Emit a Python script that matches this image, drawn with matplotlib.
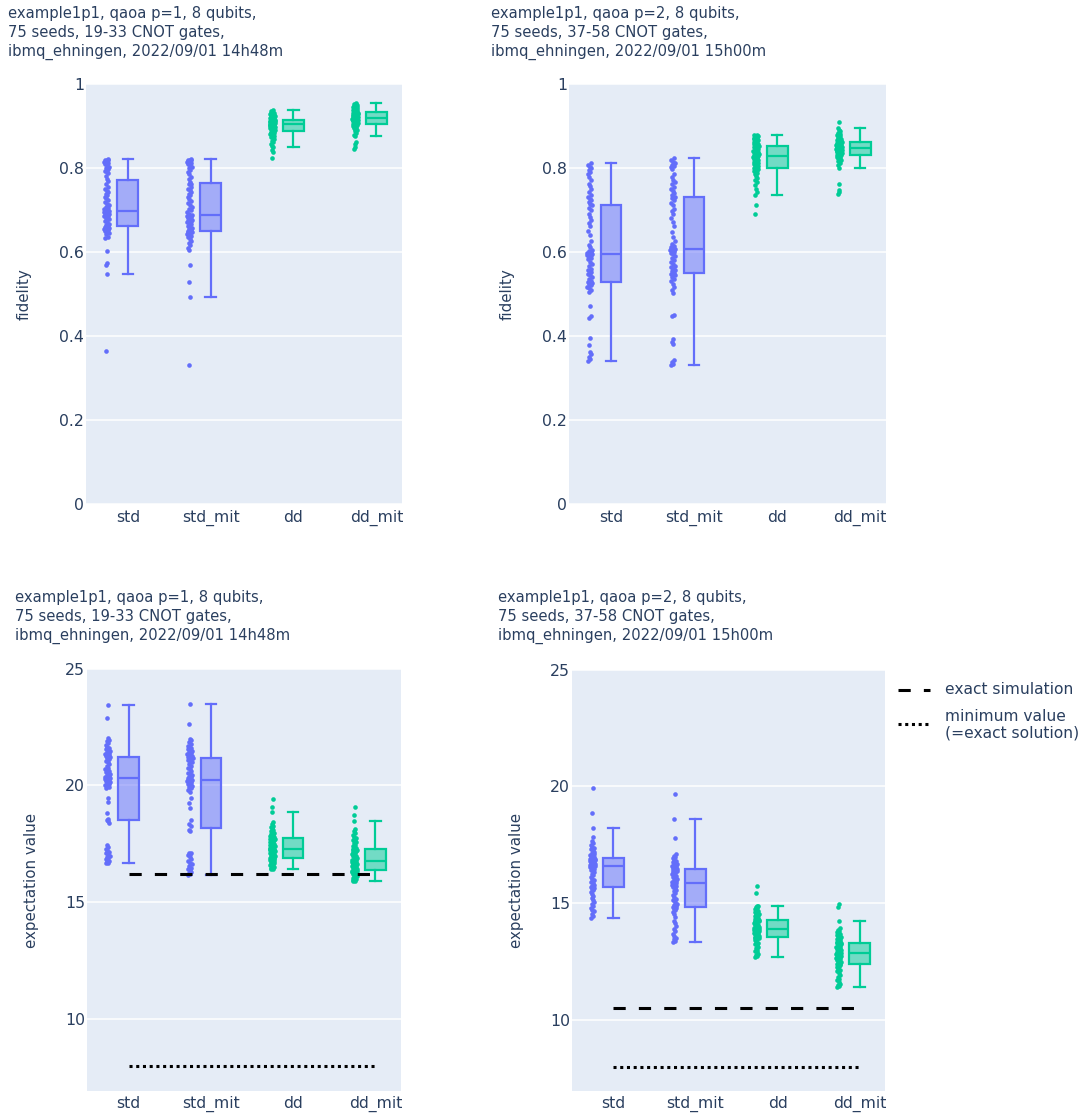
import numpy as np
import matplotlib.pyplot as plt
from matplotlib.colors import to_rgba
from matplotlib.lines import Line2D

plt.rcParams['font.family'] = ['DejaVu Sans']

categories = ['std', 'std_mit', 'dd', 'dd_mit']
colors = ['#636EFA', '#636EFA', '#00CC96', '#00CC96']

# fidelity, qaoa p=1
fid_p1_std = [0.365, 0.546, 0.568, 0.572, 0.601, 0.632, 0.636, 0.641, 0.645, 0.648, 0.650, 0.651, 0.653, 0.654, 0.655,
              0.656, 0.657, 0.658, 0.659, 0.661, 0.663, 0.666, 0.670, 0.674, 0.678, 0.681, 0.684, 0.686, 0.688, 0.689,
              0.690, 0.691, 0.692, 0.693, 0.694, 0.695, 0.696, 0.697, 0.699, 0.701, 0.704, 0.707, 0.710, 0.714, 0.718,
              0.722, 0.727, 0.731, 0.735, 0.738, 0.741, 0.744, 0.748, 0.755, 0.762, 0.768, 0.772, 0.779, 0.786, 0.790,
              0.793, 0.796, 0.799, 0.802, 0.806, 0.809, 0.811, 0.813, 0.814, 0.815, 0.816, 0.817, 0.818, 0.819, 0.820]
fid_p1_std_mit = [0.331, 0.493, 0.528, 0.568, 0.603, 0.608, 0.615, 0.620, 0.626, 0.630, 0.634, 0.637, 0.640, 0.642, 0.644,
                  0.646, 0.647, 0.648, 0.649, 0.651, 0.653, 0.656, 0.659, 0.662, 0.665, 0.668, 0.670, 0.672, 0.674, 0.676,
                  0.678, 0.680, 0.682, 0.683, 0.684, 0.685, 0.686, 0.687, 0.690, 0.694, 0.698, 0.702, 0.706, 0.710, 0.715,
                  0.720, 0.725, 0.730, 0.734, 0.738, 0.742, 0.746, 0.750, 0.755, 0.760, 0.762, 0.766, 0.772, 0.778, 0.784,
                  0.790, 0.795, 0.799, 0.802, 0.805, 0.808, 0.810, 0.812, 0.814, 0.815, 0.816, 0.817, 0.818, 0.819, 0.821]
fid_p1_dd = [0.823, 0.838, 0.842, 0.848, 0.852, 0.856, 0.860, 0.864, 0.867, 0.870, 0.873, 0.875, 0.877, 0.879, 0.881,
             0.882, 0.883, 0.884, 0.885, 0.887, 0.888, 0.889, 0.890, 0.891, 0.892, 0.893, 0.894, 0.895, 0.896, 0.897,
             0.898, 0.899, 0.899, 0.900, 0.901, 0.901, 0.902, 0.903, 0.904, 0.904, 0.905, 0.905, 0.906, 0.906, 0.907,
             0.907, 0.908, 0.909, 0.909, 0.910, 0.910, 0.911, 0.912, 0.912, 0.913, 0.913, 0.915, 0.916, 0.917, 0.918,
             0.919, 0.920, 0.921, 0.922, 0.923, 0.924, 0.925, 0.926, 0.927, 0.928, 0.929, 0.930, 0.932, 0.934, 0.936]
fid_p1_dd_mit = [0.845, 0.850, 0.856, 0.860, 0.874, 0.878, 0.882, 0.886, 0.889, 0.891, 0.893, 0.895, 0.897, 0.898, 0.899,
                 0.900, 0.901, 0.902, 0.903, 0.905, 0.906, 0.907, 0.908, 0.909, 0.910, 0.910, 0.911, 0.912, 0.912, 0.913,
                 0.914, 0.914, 0.915, 0.916, 0.916, 0.917, 0.917, 0.918, 0.919, 0.919, 0.920, 0.921, 0.921, 0.922, 0.923,
                 0.923, 0.924, 0.925, 0.925, 0.926, 0.927, 0.928, 0.929, 0.930, 0.931, 0.931, 0.933, 0.934, 0.935, 0.936,
                 0.937, 0.938, 0.939, 0.940, 0.941, 0.942, 0.943, 0.944, 0.945, 0.946, 0.947, 0.948, 0.950, 0.952, 0.954]

# fidelity, qaoa p=2
fid_p2_std = [0.341, 0.345, 0.350, 0.356, 0.362, 0.377, 0.395, 0.443, 0.447, 0.472, 0.505, 0.510, 0.513, 0.516, 0.520,
              0.523, 0.525, 0.527, 0.528, 0.530, 0.535, 0.540, 0.544, 0.548, 0.551, 0.554, 0.557, 0.560, 0.565, 0.570,
              0.576, 0.582, 0.586, 0.589, 0.591, 0.592, 0.593, 0.594, 0.596, 0.598, 0.600, 0.602, 0.605, 0.610, 0.617,
              0.625, 0.640, 0.650, 0.660, 0.668, 0.675, 0.682, 0.690, 0.698, 0.705, 0.710, 0.714, 0.718, 0.722, 0.726,
              0.730, 0.735, 0.742, 0.750, 0.756, 0.762, 0.770, 0.778, 0.784, 0.790, 0.795, 0.798, 0.801, 0.805, 0.810]
fid_p2_std_mit = [0.330, 0.334, 0.338, 0.342, 0.380, 0.386, 0.392, 0.446, 0.450, 0.502, 0.508, 0.515, 0.522, 0.530, 0.535,
                  0.540, 0.544, 0.547, 0.548, 0.550, 0.553, 0.556, 0.560, 0.563, 0.566, 0.570, 0.575, 0.580, 0.585, 0.590,
                  0.594, 0.597, 0.600, 0.602, 0.604, 0.605, 0.606, 0.607, 0.609, 0.611, 0.614, 0.618, 0.626, 0.635, 0.648,
                  0.660, 0.670, 0.680, 0.690, 0.696, 0.702, 0.710, 0.716, 0.722, 0.727, 0.729, 0.731, 0.735, 0.740, 0.745,
                  0.750, 0.755, 0.760, 0.765, 0.771, 0.778, 0.785, 0.797, 0.801, 0.804, 0.807, 0.810, 0.813, 0.818, 0.823]
fid_p2_dd = [0.689, 0.710, 0.736, 0.742, 0.750, 0.758, 0.765, 0.771, 0.776, 0.780, 0.784, 0.787, 0.790, 0.792, 0.794,
             0.796, 0.797, 0.798, 0.798, 0.800, 0.802, 0.804, 0.806, 0.808, 0.810, 0.812, 0.814, 0.815, 0.817, 0.818,
             0.820, 0.821, 0.823, 0.824, 0.825, 0.826, 0.827, 0.828, 0.829, 0.830, 0.831, 0.832, 0.833, 0.835, 0.836,
             0.837, 0.839, 0.840, 0.842, 0.843, 0.845, 0.846, 0.848, 0.849, 0.850, 0.851, 0.853, 0.855, 0.857, 0.859,
             0.861, 0.863, 0.864, 0.866, 0.867, 0.868, 0.869, 0.870, 0.871, 0.872, 0.873, 0.874, 0.875, 0.877, 0.878]
fid_p2_dd_mit = [0.738, 0.742, 0.746, 0.762, 0.800, 0.806, 0.811, 0.815, 0.818, 0.820, 0.822, 0.824, 0.825, 0.826, 0.827,
                 0.828, 0.829, 0.830, 0.830, 0.832, 0.833, 0.834, 0.835, 0.836, 0.837, 0.838, 0.839, 0.840, 0.840, 0.841,
                 0.842, 0.842, 0.843, 0.844, 0.844, 0.845, 0.845, 0.846, 0.847, 0.848, 0.848, 0.849, 0.850, 0.851, 0.851,
                 0.852, 0.853, 0.854, 0.855, 0.856, 0.856, 0.857, 0.858, 0.859, 0.860, 0.860, 0.862, 0.863, 0.864, 0.865,
                 0.866, 0.867, 0.868, 0.869, 0.870, 0.872, 0.874, 0.876, 0.878, 0.880, 0.883, 0.886, 0.890, 0.895, 0.908]

# expectation value, qaoa p=1
exp_p1_std = [16.67, 16.70, 16.73, 16.77, 16.80, 16.84, 16.88, 16.93, 16.98, 17.04, 17.10, 17.16, 17.22, 17.30, 17.38,
              17.44, 18.40, 18.48, 18.52, 18.56, 18.80, 19.30, 19.44, 19.87, 19.93, 19.98, 20.02, 20.06, 20.10, 20.13,
              20.16, 20.19, 20.22, 20.24, 20.26, 20.28, 20.30, 20.31, 20.33, 20.36, 20.40, 20.44, 20.48, 20.52, 20.56,
              20.60, 20.65, 20.70, 20.76, 20.82, 20.90, 20.98, 21.05, 21.12, 21.18, 21.20, 21.22, 21.25, 21.28, 21.31,
              21.34, 21.38, 21.42, 21.46, 21.50, 21.55, 21.60, 21.65, 21.72, 21.80, 21.88, 21.94, 22.01, 22.90, 23.46]
exp_p1_std_mit = [16.16, 16.20, 16.25, 16.30, 16.36, 16.42, 16.48, 16.55, 16.62, 16.70, 16.78, 16.86, 16.94, 17.01, 17.06,
                  17.10, 17.12, 18.05, 18.11, 18.25, 18.37, 18.51, 19.04, 19.23, 19.48, 19.73, 19.80, 19.87, 19.93, 19.98,
                  20.03, 20.07, 20.11, 20.15, 20.18, 20.20, 20.22, 20.23, 20.26, 20.30, 20.34, 20.38, 20.43, 20.48, 20.53,
                  20.60, 20.68, 20.76, 20.84, 20.92, 20.98, 21.04, 21.09, 21.13, 21.15, 21.16, 21.18, 21.22, 21.26, 21.30,
                  21.34, 21.38, 21.42, 21.46, 21.50, 21.55, 21.60, 21.65, 21.70, 21.78, 21.87, 21.95, 22.00, 22.61, 23.49]
exp_p1_dd = [16.41, 16.44, 16.48, 16.52, 16.56, 16.60, 16.64, 16.67, 16.70, 16.73, 16.76, 16.78, 16.80, 16.82, 16.84,
             16.86, 16.87, 16.88, 16.89, 16.91, 16.93, 16.96, 16.99, 17.02, 17.05, 17.08, 17.11, 17.14, 17.16, 17.18,
             17.20, 17.22, 17.24, 17.26, 17.27, 17.28, 17.29, 17.30, 17.32, 17.34, 17.36, 17.38, 17.41, 17.44, 17.47,
             17.50, 17.53, 17.56, 17.59, 17.62, 17.65, 17.67, 17.69, 17.71, 17.72, 17.72, 17.74, 17.76, 17.79, 17.82,
             17.85, 17.88, 17.92, 17.96, 18.00, 18.05, 18.10, 18.16, 18.22, 18.28, 18.34, 18.42, 18.87, 19.06, 19.40]
exp_p1_dd_mit = [15.91, 15.93, 15.95, 15.98, 16.01, 16.04, 16.07, 16.10, 16.13, 16.16, 16.19, 16.22, 16.25, 16.28, 16.30,
                 16.32, 16.33, 16.34, 16.35, 16.37, 16.39, 16.42, 16.45, 16.48, 16.51, 16.54, 16.57, 16.60, 16.62, 16.64,
                 16.66, 16.68, 16.70, 16.72, 16.73, 16.74, 16.75, 16.76, 16.78, 16.81, 16.84, 16.87, 16.90, 16.93, 16.96,
                 17.00, 17.04, 17.08, 17.12, 17.15, 17.18, 17.20, 17.22, 17.24, 17.25, 17.25, 17.27, 17.30, 17.34, 17.38,
                 17.42, 17.47, 17.52, 17.57, 17.62, 17.68, 17.74, 17.80, 17.88, 17.96, 18.05, 18.15, 18.48, 18.73, 19.07]

# expectation value, qaoa p=2
exp_p2_std = [14.37, 14.45, 14.55, 14.65, 14.72, 14.80, 14.88, 14.95, 15.05, 15.15, 15.22, 15.30, 15.40, 15.48, 15.55,
              15.60, 15.64, 15.67, 15.69, 15.71, 15.75, 15.80, 15.86, 15.92, 15.98, 16.05, 16.12, 16.19, 16.26, 16.32,
              16.38, 16.43, 16.47, 16.51, 16.54, 16.56, 16.58, 16.59, 16.61, 16.63, 16.65, 16.67, 16.69, 16.71, 16.73,
              16.75, 16.77, 16.79, 16.81, 16.83, 16.85, 16.87, 16.88, 16.90, 16.91, 16.91, 16.93, 16.95, 16.98, 17.01,
              17.05, 17.09, 17.13, 17.18, 17.24, 17.30, 17.36, 17.42, 17.50, 17.58, 17.66, 17.82, 18.20, 18.84, 19.94]
exp_p2_std_mit = [13.33, 13.38, 13.45, 13.52, 13.60, 13.70, 13.80, 13.92, 14.02, 14.14, 14.25, 14.40, 14.52, 14.62, 14.70,
                  14.76, 14.80, 14.83, 14.85, 14.87, 14.92, 14.98, 15.05, 15.12, 15.20, 15.28, 15.36, 15.44, 15.52, 15.58,
                  15.64, 15.69, 15.73, 15.77, 15.80, 15.82, 15.84, 15.85, 15.88, 15.92, 15.96, 16.00, 16.04, 16.08, 16.12,
                  16.16, 16.20, 16.24, 16.28, 16.32, 16.36, 16.40, 16.43, 16.45, 16.46, 16.46, 16.48, 16.51, 16.54, 16.57,
                  16.60, 16.63, 16.66, 16.70, 16.74, 16.78, 16.82, 16.87, 16.93, 17.00, 17.04, 17.09, 17.78, 18.60, 19.66]
exp_p2_dd = [12.72, 12.76, 12.80, 12.85, 12.90, 12.96, 13.02, 13.08, 13.14, 13.20, 13.26, 13.32, 13.37, 13.42, 13.46,
             13.50, 13.52, 13.53, 13.54, 13.56, 13.58, 13.61, 13.64, 13.67, 13.70, 13.72, 13.74, 13.76, 13.78, 13.80,
             13.82, 13.84, 13.85, 13.86, 13.87, 13.88, 13.89, 13.90, 13.92, 13.94, 13.96, 13.98, 14.00, 14.03, 14.06,
             14.09, 14.12, 14.15, 14.18, 14.20, 14.22, 14.24, 14.26, 14.27, 14.28, 14.28, 14.30, 14.33, 14.36, 14.40,
             14.44, 14.48, 14.52, 14.56, 14.60, 14.64, 14.68, 14.72, 14.76, 14.80, 14.84, 14.87, 14.90, 15.45, 15.74]
exp_p2_dd_mit = [11.41, 11.45, 11.50, 11.56, 11.62, 11.70, 11.78, 11.86, 11.94, 12.02, 12.10, 12.16, 12.22, 12.27, 12.31,
                 12.34, 12.36, 12.38, 12.39, 12.41, 12.44, 12.48, 12.52, 12.56, 12.60, 12.64, 12.67, 12.70, 12.72, 12.74,
                 12.76, 12.78, 12.80, 12.82, 12.83, 12.84, 12.85, 12.86, 12.88, 12.91, 12.94, 12.97, 13.00, 13.03, 13.06,
                 13.09, 13.12, 13.15, 13.18, 13.21, 13.24, 13.27, 13.29, 13.30, 13.31, 13.31, 13.33, 13.36, 13.39, 13.42,
                 13.45, 13.48, 13.52, 13.56, 13.60, 13.64, 13.68, 13.72, 13.76, 13.80, 13.86, 13.95, 14.23, 14.86, 14.97]

exact_sim_p1 = 16.19
exact_sim_p2 = 10.53
min_value = 8.0

title_p1 = 'example1p1, qaoa p=1, 8 qubits,\n75 seeds, 19-33 CNOT gates,\nibmq_ehningen, 2022/09/01 14h48m'
title_p2 = 'example1p1, qaoa p=2, 8 qubits,\n75 seeds, 37-58 CNOT gates,\nibmq_ehningen, 2022/09/01 15h00m'

TXT = '#2a3f5f'
W, H = 1086, 1114
fig = plt.figure(figsize=(W / 100, H / 100), dpi=100)


def px_axes(x0, y0, x1, y1):
    return fig.add_axes([x0 / W, 1 - y1 / H, (x1 - x0) / W, (y1 - y0) / H])


def jitter(vals, span):
    # plotly-like jitter: wider where the points are dense
    v = np.asarray(vals)
    dens = np.array([(np.abs(v - x) < span * 0.02).sum() for x in v])
    u = 2 * ((np.arange(len(v)) * 0.618034) % 1) - 1
    return 0.035 * np.sqrt(dens / dens.max()) * u


def panel(ax, groups, ylim, yticks, yticklabels):
    ax.set_facecolor('#E5ECF6')
    for s in ax.spines.values():
        s.set_visible(False)
    span = ylim[1] - ylim[0]
    for i, (vals, c) in enumerate(zip(groups, colors)):
        ax.boxplot(vals, positions=[i], widths=0.25, whis=1.5, showfliers=False, patch_artist=True,
                   manage_ticks=False, capwidths=0.125,
                   boxprops=dict(facecolor=to_rgba(c, 0.5), edgecolor=c, linewidth=1.6),
                   medianprops=dict(color=c, linewidth=1.6),
                   whiskerprops=dict(color=c, linewidth=1.6),
                   capprops=dict(color=c, linewidth=1.6))
        ax.scatter(i - 0.255 + jitter(vals, span), vals, s=11, color=c, linewidths=0, zorder=3)
    ax.set_xlim(-0.505, 3.31)
    ax.set_ylim(*ylim)
    ax.set_xticks(range(4))
    ax.set_xticklabels(categories)
    ax.set_yticks(yticks)
    ax.set_yticklabels(yticklabels)
    ax.grid(axis='y', color='white', linewidth=1.1)
    ax.grid(axis='x', visible=False)
    ax.set_axisbelow(True)
    ax.tick_params(axis='both', length=0, labelsize=11.3, labelcolor=TXT)
    ax.tick_params(axis='x', pad=4)
    ax.tick_params(axis='y', pad=1.5)


def ref_lines(ax, exact):
    ax.hlines(exact, 0, 3, color='black', linewidth=2.2, linestyles=(0, (4, 4.3)), zorder=4)
    ax.hlines(min_value, 0, 3, color='black', linewidth=2.2, linestyles=(0, (1, 1.2)), zorder=4)


ax_tl = px_axes(86, 83.5, 402, 504)
ax_tr = px_axes(569, 83.5, 886, 504)
ax_bl = px_axes(87, 668.5, 401, 1090.5)
ax_br = px_axes(572, 669.5, 885, 1090.5)

fid_ticks = [0, 0.2, 0.4, 0.6, 0.8, 1]
fid_labels = ['0', '0.2', '0.4', '0.6', '0.8', '1']
exp_ticks = [10, 15, 20, 25]
exp_labels = ['10', '15', '20', '25']

panel(ax_tl, [fid_p1_std, fid_p1_std_mit, fid_p1_dd, fid_p1_dd_mit], (0, 1), fid_ticks, fid_labels)
panel(ax_tr, [fid_p2_std, fid_p2_std_mit, fid_p2_dd, fid_p2_dd_mit], (0, 1), fid_ticks, fid_labels)
panel(ax_bl, [exp_p1_std, exp_p1_std_mit, exp_p1_dd, exp_p1_dd_mit], (6.95, 25), exp_ticks, exp_labels)
panel(ax_br, [exp_p2_std, exp_p2_std_mit, exp_p2_dd, exp_p2_dd_mit], (6.99, 25), exp_ticks, exp_labels)
ref_lines(ax_bl, exact_sim_p1)
ref_lines(ax_br, exact_sim_p2)

# titles and axis titles
for x, y, t in [(8, 6, title_p1), (491, 6, title_p2), (15, 590, title_p1), (498, 590, title_p2)]:
    fig.text(x / W, 1 - y / H, t, ha='left', va='top', fontsize=10.6, color=TXT, linespacing=1.31)
for x, y, t in [(24, 294, 'fidelity'), (507, 294, 'fidelity'),
                (32, 880, 'expectation value'), (516, 880, 'expectation value')]:
    fig.text(x / W, 1 - y / H, t, rotation=90, ha='center', va='center', fontsize=10.8, color=TXT)

# legend
fig.add_artist(Line2D([898 / W, 930 / W], [1 - 690 / H] * 2, color='black', linewidth=2.2, linestyle=(0, (4, 4.3))))
fig.add_artist(Line2D([898 / W, 930 / W], [1 - 724 / H] * 2, color='black', linewidth=2.2, linestyle=(0, (1, 1.2))))
fig.text(945 / W, 1 - 690 / H, 'exact simulation', ha='left', va='center', fontsize=11.2, color=TXT)
fig.text(945 / W, 1 - 725 / H, 'minimum value\n(=exact solution)', ha='left', va='center', fontsize=11.2,
         color=TXT, linespacing=1.15)

fig.savefig('out.png', dpi=100)
